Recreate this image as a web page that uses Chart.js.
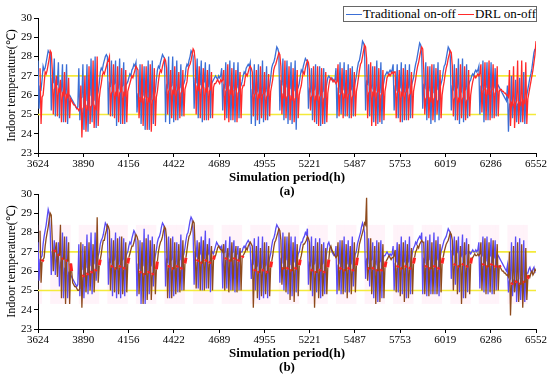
<!DOCTYPE html>
<html>
<head>
<meta charset="utf-8">
<script src="https://cdn.jsdelivr.net/npm/chart.js@4.4.1/dist/chart.umd.min.js"></script>
<style>
  body { margin: 0; background: #fff; width: 550px; height: 376px; position: relative; overflow: hidden; }
  .pane { position: absolute; left: 0; }
  #legend {
    position: absolute; left: 343px; top: 6px; width: 192px; height: 14px;
    border: 1px solid #666; background: #fff; z-index: 5;
    font: 13px 'Liberation Serif', serif; color: #000;
    display: flex; align-items: center; white-space: nowrap;
  }
  #legend .ln { display: inline-block; width: 30px; height: 1px; margin: 0 1px 0 2px; }
</style>
</head>
<body>
<div class="pane" style="top:0"><canvas id="chartA" width="550" height="200"></canvas></div>
<div class="pane" style="top:176px"><canvas id="chartB" width="550" height="200"></canvas></div>
<div id="legend">
  <span class="ln" style="background:#3b6fd6"></span><span>Traditional on-off</span>
  <span class="ln" style="background:#ff2a2a"></span><span>DRL on-off</span>
</div>
<script>
// ─── Axis values ──────────────────────────────────────────────────────────────
const xTickLabels = [3624, 3890, 4156, 4422, 4689, 4955, 5221, 5487, 5753, 6019, 6286, 6552];
const comfortBand = [25, 27];

// first sample hour of each controller's log (DRL log is half a day later)
const tradStartHour = 3624;
const drlStartHour  = 3636;

// ─── Series: 4 readings per day (6 h apart), day 0 then weekly rows
//     (2 weekend days + 5 working days), last row = closing weekend ─────────

const tradA = [
  27.8, 25.3, 26.4, 26.3,
  26.8, 27.5, 27.3, 27.4, 27.7, 28.0, 28.3, 28.2,  28.2, 25.2, 26.8, 26.7, 27.9, 24.9, 26.7, 26.6, 27.7, 24.8, 26.5, 26.3, 27.6, 24.6, 26.2, 26.1, 27.6, 24.5, 26.0, 26.0,
  25.9, 25.8, 25.7, 25.6, 25.5, 25.4, 25.3, 25.4,  27.4, 24.7, 25.8, 25.9, 27.6, 24.2, 25.9, 25.8, 27.6, 24.1, 25.9, 26.0, 27.9, 24.6, 25.9, 25.8, 28.0, 24.3, 26.0, 26.2,
  26.6, 27.2, 27.4, 27.3, 27.6, 27.8, 28.0, 28.1,  28.0, 25.0, 26.6, 26.5, 27.8, 24.9, 26.5, 26.6, 27.8, 24.4, 26.5, 26.4, 27.9, 24.5, 26.4, 26.5, 27.7, 24.5, 26.5, 26.6,
  26.7, 26.9, 27.1, 27.0, 27.3, 27.4, 27.6, 27.5,  27.7, 25.1, 26.0, 25.9, 27.6, 24.5, 25.9, 26.0, 27.5, 24.2, 25.8, 25.9, 27.8, 24.2, 25.9, 25.8, 27.8, 24.5, 26.0, 26.2,
  26.8, 27.3, 27.5, 27.4, 27.7, 27.9, 28.1, 28.0,  27.9, 24.6, 26.5, 26.4, 28.0, 24.5, 26.4, 26.5, 28.0, 24.6, 26.4, 26.3, 27.8, 24.7, 26.3, 26.4, 27.6, 24.9, 26.5, 26.6,
  26.8, 27.4, 27.6, 27.5, 27.8, 28.0, 28.3, 28.2,  28.0, 25.3, 26.8, 26.7, 27.9, 24.8, 26.7, 26.6, 27.8, 24.6, 26.6, 26.7, 27.7, 24.7, 26.6, 26.5, 27.6, 24.8, 26.6, 26.7,
  26.8, 26.9, 27.0, 26.9, 26.8, 27.0, 26.9, 27.0,  27.4, 25.2, 26.5, 26.4, 27.7, 24.8, 26.4, 26.5, 27.8, 24.7, 26.4, 26.3, 27.7, 24.6, 26.3, 26.4, 27.7, 24.8, 26.4, 26.5,
  26.7, 27.0, 27.2, 27.1, 27.4, 27.5, 27.6, 27.5,  27.7, 24.5, 26.2, 26.1, 27.6, 24.4, 26.1, 26.2, 27.6, 24.5, 26.1, 26.0, 27.8, 24.6, 26.1, 26.2, 27.5, 24.7, 26.3, 26.5,
  26.9, 27.4, 27.6, 27.7, 27.9, 28.2, 28.5, 28.4,  28.2, 25.2, 26.7, 26.6, 27.9, 24.7, 26.6, 26.5, 27.8, 24.5, 26.5, 26.4, 27.7, 24.5, 26.4, 26.3, 27.8, 24.2, 26.3, 26.4,
  26.6, 27.0, 27.3, 27.2, 27.5, 27.7, 27.9, 27.8,  27.8, 25.3, 26.3, 26.2, 27.4, 24.7, 26.2, 26.3, 27.6, 24.5, 26.2, 26.1, 27.5, 24.4, 26.1, 26.2, 27.4, 24.5, 26.3, 26.6,
  26.9, 27.0, 26.9, 26.8, 26.9, 26.8, 26.7, 26.8,  27.4, 24.8, 26.3, 26.2, 27.7, 25.0, 26.2, 26.3, 27.7, 24.9, 26.2, 26.1, 27.6, 24.8, 26.2, 26.3, 27.5, 24.9, 26.4, 26.7,
  27.0, 27.4, 27.7, 27.8, 28.1, 28.4, 28.8, 28.7,  28.5, 25.2, 26.7, 26.6, 27.6, 24.9, 26.5, 26.4, 27.5, 24.6, 26.4, 26.3, 27.8, 24.5, 26.3, 26.2, 27.7, 24.5, 26.4, 26.7,
  27.0, 27.1, 27.2, 27.1, 27.2, 27.3, 27.2, 27.3,  27.6, 25.2, 26.4, 26.3, 27.6, 24.8, 26.3, 26.4, 27.7, 24.6, 26.3, 26.2, 27.6, 24.7, 26.3, 26.4, 27.6, 24.8, 26.5, 26.7,
  26.9, 27.3, 27.6, 27.8, 28.1, 28.4, 28.7, 28.6,  28.1, 25.3, 26.5, 26.4, 27.7, 24.7, 26.4, 26.3, 27.5, 24.5, 26.3, 26.2, 27.6, 24.6, 26.2, 26.3, 27.7, 24.7, 26.4, 26.6,
  26.8, 27.2, 27.5, 27.6, 27.9, 28.2, 28.5, 28.4,  28.0, 25.2, 26.4, 26.3, 27.6, 24.7, 26.3, 26.4, 27.9, 24.5, 26.3, 26.2, 27.9, 24.6, 26.2, 26.3, 27.6, 24.8, 26.5, 26.7,
  26.8, 27.0, 27.1, 27.0, 27.2, 27.3, 27.2, 27.3,  27.5, 25.0, 26.4, 26.3, 27.8, 24.6, 26.3, 26.4, 27.7, 24.7, 26.3, 26.2, 27.7, 24.8, 26.3, 26.4, 27.4, 24.9, 26.4, 26.5,
  26.4, 26.3, 26.2, 26.1, 26.0, 25.9, 25.8, 25.7,  26.5, 24.1, 25.5, 25.4, 27.0, 24.8, 25.5, 25.6, 26.8, 24.6, 25.5, 25.4, 26.9, 24.6, 25.6, 25.5, 27.2, 24.5, 25.7, 26.0,
  26.3, 26.6, 26.9, 27.1, 27.4, 27.8, 28.2, 28.4,
];

const drlA = [
  27.4, 24.5, 25.9, 26.0,
  26.6, 27.2, 27.1, 27.3, 27.6, 27.9, 28.3, 28.2,  27.3, 25.0, 26.3, 26.4, 27.0, 24.9, 26.3, 26.2, 26.8, 24.6, 26.1, 26.0, 27.2, 24.6, 26.0, 25.9, 26.9, 24.8, 25.8, 25.7,
  25.6, 25.5, 25.5, 25.4, 25.3, 25.3, 25.2, 25.3,  26.5, 23.8, 25.3, 25.4, 27.0, 24.1, 25.4, 25.3, 27.5, 24.5, 25.4, 25.5, 27.8, 24.3, 25.4, 25.3, 28.0, 24.4, 25.8, 26.3,
  26.6, 27.0, 27.2, 27.1, 27.3, 27.5, 27.7, 27.8,  28.0, 24.9, 26.1, 26.2, 27.6, 24.8, 26.1, 26.0, 27.5, 24.6, 26.1, 26.2, 27.4, 24.5, 26.1, 26.0, 27.3, 24.6, 26.2, 26.4,
  26.6, 26.8, 27.0, 26.9, 27.1, 27.3, 27.5, 27.4,  27.3, 24.8, 25.8, 25.7, 27.6, 24.4, 25.8, 25.9, 27.5, 24.2, 25.8, 25.7, 27.6, 24.1, 25.7, 25.8, 27.4, 24.4, 25.9, 26.2,
  26.7, 27.1, 27.3, 27.2, 27.5, 27.7, 27.9, 27.8,  27.4, 25.0, 26.2, 26.3, 27.3, 24.8, 26.2, 26.1, 27.5, 24.7, 26.2, 26.3, 27.2, 24.8, 26.1, 26.2, 27.3, 24.9, 26.3, 26.5,
  26.7, 27.3, 27.5, 27.6, 27.8, 28.1, 28.4, 28.3,  27.8, 25.0, 26.4, 26.3, 27.5, 24.8, 26.3, 26.4, 27.4, 24.7, 26.3, 26.2, 27.3, 24.7, 26.2, 26.3, 27.2, 24.8, 26.4, 26.6,
  26.6, 26.7, 26.8, 26.7, 26.6, 26.8, 26.7, 26.8,  27.3, 24.7, 26.2, 26.3, 27.6, 24.6, 26.2, 26.1, 27.4, 24.7, 26.2, 26.3, 27.3, 24.6, 26.1, 26.2, 27.2, 24.8, 26.3, 26.5,
  26.5, 26.9, 27.1, 27.0, 27.2, 27.4, 27.5, 27.4,  27.2, 24.9, 26.0, 26.1, 27.3, 24.7, 26.0, 25.9, 27.5, 24.8, 26.0, 26.1, 27.2, 24.7, 25.9, 26.0, 27.1, 24.9, 26.2, 26.5,
  26.8, 27.3, 27.5, 27.6, 27.8, 28.0, 28.2, 28.1,  27.5, 25.0, 26.0, 25.9, 27.8, 24.8, 25.9, 26.0, 27.5, 24.7, 25.9, 25.8, 27.4, 24.6, 25.8, 25.9, 27.3, 24.8, 26.0, 26.3,
  26.5, 26.9, 27.2, 27.1, 27.4, 27.6, 27.8, 27.7,  27.3, 25.2, 25.9, 26.0, 27.5, 24.6, 25.9, 25.8, 27.5, 24.4, 25.9, 26.0, 27.4, 24.5, 25.8, 25.9, 27.2, 24.6, 26.1, 26.5,
  26.8, 26.9, 26.8, 26.7, 26.8, 26.7, 26.6, 26.7,  27.6, 24.9, 26.0, 26.1, 27.4, 24.8, 26.0, 25.9, 27.3, 24.9, 26.0, 26.1, 27.4, 24.8, 25.9, 26.0, 27.2, 24.9, 26.2, 26.5,
  26.9, 27.3, 27.6, 27.7, 28.0, 28.3, 28.6, 28.5,  27.9, 24.8, 26.1, 26.2, 27.7, 24.4, 26.1, 26.0, 27.5, 24.4, 26.1, 26.2, 27.4, 24.6, 26.0, 26.1, 27.3, 24.7, 26.2, 26.5,
  26.9, 27.0, 27.1, 27.0, 27.1, 27.2, 27.1, 27.2,  27.2, 24.8, 26.1, 26.2, 27.3, 24.6, 26.1, 26.0, 27.4, 24.7, 26.1, 26.2, 27.3, 24.7, 26.0, 26.1, 27.2, 24.8, 26.2, 26.5,
  26.8, 27.2, 27.5, 27.7, 28.0, 28.3, 28.5, 28.4,  27.3, 25.0, 25.8, 25.9, 27.5, 24.8, 25.8, 25.7, 27.6, 24.7, 25.8, 25.9, 27.4, 25.0, 25.7, 25.8, 27.3, 24.8, 26.0, 26.4,
  26.7, 27.1, 27.4, 27.6, 27.9, 28.1, 28.3, 28.2,  27.5, 24.9, 25.8, 25.9, 27.4, 24.7, 25.8, 25.7, 27.6, 24.8, 25.8, 25.9, 27.5, 24.7, 25.7, 25.8, 27.3, 24.9, 26.0, 26.4,
  26.7, 26.9, 27.0, 26.9, 27.0, 27.1, 27.0, 27.1,  27.6, 25.1, 26.2, 26.3, 27.7, 24.7, 26.2, 26.1, 27.8, 24.7, 26.2, 26.3, 27.6, 24.8, 26.1, 26.2, 27.5, 24.9, 26.2, 26.3,
  26.3, 26.2, 26.2, 26.1, 26.1, 26.0, 26.0, 25.9,  27.3, 24.4, 25.6, 25.5, 27.5, 24.3, 25.6, 25.7, 27.8, 24.5, 25.6, 25.5, 27.8, 24.6, 25.7, 25.6, 27.7, 24.5, 25.8, 26.1,
  26.4, 26.7, 27.0, 27.3, 27.7, 28.1, 28.8, 28.5,
];

const tradB = [
  27.5, 25.5, 26.6, 26.7,
  26.8, 27.4, 27.8, 28.1, 28.4, 28.8, 29.2, 29.0,  28.0, 25.8, 26.9, 26.8, 27.6, 25.8, 26.7, 26.5, 27.5, 25.2, 26.4, 26.2, 28.0, 24.6, 26.1, 26.0, 27.8, 24.6, 25.9, 25.8,
  25.8, 25.7, 25.6, 25.5, 25.4, 25.3, 25.2, 25.3,  27.4, 24.7, 26.0, 26.1, 27.4, 24.6, 26.1, 26.2, 27.9, 24.8, 26.2, 26.3, 28.0, 24.8, 26.3, 26.4, 28.0, 25.5, 26.5, 26.8,
  27.0, 27.4, 27.6, 27.7, 27.9, 28.2, 28.5, 28.4,  28.2, 25.3, 26.6, 26.5, 27.7, 24.7, 26.5, 26.6, 28.0, 24.6, 26.5, 26.4, 27.8, 24.6, 26.5, 26.6, 27.7, 24.7, 26.7, 26.9,
  27.0, 27.3, 27.5, 27.4, 27.7, 27.9, 28.1, 28.0,  27.5, 24.7, 26.3, 26.2, 27.6, 24.3, 26.2, 26.3, 28.2, 24.3, 26.2, 26.1, 27.9, 24.8, 26.2, 26.3, 27.8, 25.2, 26.5, 26.8,
  27.1, 27.5, 27.7, 27.8, 28.0, 28.3, 28.5, 28.4,  28.2, 25.2, 26.6, 26.5, 27.8, 24.6, 26.5, 26.6, 27.8, 24.7, 26.5, 26.4, 27.5, 24.9, 26.5, 26.6, 27.9, 25.0, 26.7, 26.9,
  27.2, 27.6, 27.9, 28.0, 28.3, 28.6, 28.8, 28.7,  28.0, 25.3, 26.9, 26.8, 27.6, 25.1, 26.8, 26.9, 27.8, 25.0, 26.8, 26.7, 28.1, 25.1, 26.8, 26.9, 27.7, 24.9, 26.9, 27.0,
  26.9, 27.1, 27.3, 27.5, 27.4, 27.3, 27.3, 27.2,  27.3, 25.1, 26.9, 27.0, 27.6, 25.1, 26.9, 26.8, 27.8, 25.0, 26.9, 27.0, 27.6, 24.9, 26.8, 26.9, 27.3, 25.0, 26.9, 27.0,
  27.0, 27.2, 27.3, 27.2, 27.4, 27.5, 27.6, 27.5,  27.2, 25.6, 26.5, 26.4, 27.7, 25.0, 26.4, 26.3, 27.8, 24.5, 26.3, 26.2, 27.8, 24.6, 26.2, 26.3, 27.5, 24.6, 26.4, 26.7,
  26.9, 27.3, 27.6, 27.7, 27.9, 28.2, 28.4, 28.3,  28.2, 25.4, 26.6, 26.5, 28.0, 25.0, 26.5, 26.6, 27.8, 24.8, 26.5, 26.4, 27.8, 24.7, 26.4, 26.5, 27.8, 24.9, 26.6, 26.9,
  27.0, 27.3, 27.5, 27.5, 27.7, 27.8, 28.0, 27.9,  28.2, 25.3, 26.4, 26.3, 27.8, 24.7, 26.3, 26.4, 27.7, 24.9, 26.3, 26.2, 27.7, 24.6, 26.3, 26.4, 27.5, 24.8, 26.6, 27.0,
  27.4, 27.5, 27.3, 27.2, 27.0, 26.9, 26.8, 26.8,  27.3, 24.8, 26.3, 26.4, 27.6, 24.8, 26.3, 26.2, 27.8, 24.9, 26.3, 26.4, 27.6, 24.9, 26.3, 26.4, 27.8, 25.2, 26.6, 26.9,
  27.0, 27.4, 27.6, 27.8, 28.0, 28.3, 28.5, 28.3,  28.0, 25.6, 26.6, 26.5, 27.7, 25.2, 26.5, 26.6, 27.5, 24.6, 26.5, 26.4, 27.6, 24.4, 26.4, 26.5, 27.6, 24.6, 26.6, 26.8,
  26.8, 26.9, 27.0, 26.9, 26.8, 26.9, 26.8, 26.9,  27.3, 25.0, 26.4, 26.5, 27.5, 24.9, 26.4, 26.3, 27.8, 24.8, 26.4, 26.5, 27.6, 24.6, 26.4, 26.5, 27.8, 24.8, 26.7, 27.0,
  27.2, 27.3, 27.5, 27.4, 27.6, 27.7, 27.8, 27.7,  28.0, 24.8, 26.6, 26.5, 27.8, 24.7, 26.5, 26.6, 27.9, 24.8, 26.5, 26.4, 28.0, 24.8, 26.5, 26.6, 27.8, 24.7, 26.7, 27.0,
  27.2, 27.4, 27.6, 27.7, 27.8, 28.0, 28.2, 28.1,  28.0, 25.6, 27.0, 26.9, 27.8, 25.3, 26.9, 27.0, 27.8, 24.9, 26.9, 26.8, 27.9, 24.6, 26.8, 26.9, 27.7, 24.9, 26.9, 27.0,
  26.9, 27.0, 27.1, 27.0, 27.0, 27.1, 27.0, 27.1,  27.5, 25.1, 26.7, 26.8, 27.8, 24.9, 26.7, 26.6, 27.8, 24.8, 26.7, 26.8, 27.7, 24.8, 26.6, 26.7, 27.6, 25.0, 26.7, 26.8,
  26.7, 26.6, 26.5, 26.4, 26.3, 26.2, 26.1, 26.0,  26.3, 24.9, 25.5, 25.6, 27.5, 24.7, 25.5, 25.4, 27.8, 24.4, 25.5, 25.6, 27.7, 24.5, 25.6, 25.5, 27.6, 24.4, 25.7, 25.9,
  25.9, 26.1, 26.2, 26.0, 25.9, 26.1, 26.2, 25.9,
];

const drlB = [
  28.1, 25.4, 26.5, 26.6,
  26.7, 27.3, 27.7, 28.0, 28.3, 28.7, 29.0, 28.9,  27.6, 26.0, 27.0, 27.1, 27.5, 25.7, 26.9, 26.8, 28.4, 24.6, 26.7, 26.6, 27.8, 24.3, 26.6, 26.5, 27.5, 24.3, 26.4, 26.0,
  25.4, 25.3, 25.2, 25.2, 25.1, 25.0, 25.0, 25.1,  27.5, 24.1, 25.7, 25.8, 27.3, 24.9, 25.8, 25.9, 27.5, 25.0, 25.9, 26.0, 27.4, 24.9, 26.0, 26.1, 28.8, 25.4, 26.3, 26.6,
  26.9, 27.3, 27.6, 27.6, 27.9, 28.1, 28.4, 28.3,  28.1, 25.0, 26.2, 26.3, 27.6, 24.9, 26.2, 26.1, 27.7, 24.8, 26.2, 26.3, 27.8, 24.8, 26.1, 26.2, 27.5, 24.9, 26.4, 26.7,
  26.9, 27.1, 27.3, 27.3, 27.5, 27.7, 27.9, 27.8,  27.6, 24.8, 25.9, 26.0, 27.5, 24.3, 25.9, 25.8, 27.7, 24.5, 25.9, 26.0, 27.6, 24.5, 25.8, 25.9, 27.4, 24.8, 26.1, 26.5,
  27.0, 27.3, 27.5, 27.6, 27.8, 28.1, 28.3, 28.2,  27.7, 24.6, 26.2, 26.3, 27.7, 24.6, 26.2, 26.1, 27.5, 24.8, 26.2, 26.3, 27.4, 24.9, 26.1, 26.2, 27.6, 25.0, 26.4, 26.7,
  27.1, 27.5, 27.8, 27.9, 28.1, 28.4, 28.6, 28.5,  27.2, 25.1, 26.5, 26.6, 27.5, 25.0, 26.5, 26.4, 27.6, 25.0, 26.5, 26.6, 27.4, 25.1, 26.4, 26.5, 27.3, 25.0, 26.6, 26.8,
  26.8, 27.0, 27.2, 27.3, 27.2, 27.1, 27.1, 27.0,  27.4, 25.0, 26.6, 26.7, 27.2, 24.9, 26.6, 26.5, 27.5, 25.0, 26.6, 26.7, 27.3, 24.9, 26.5, 26.6, 27.2, 25.0, 26.7, 26.8,
  26.9, 27.0, 27.2, 27.1, 27.3, 27.4, 27.5, 27.4,  27.3, 24.1, 26.0, 26.1, 27.3, 24.6, 26.0, 25.9, 27.2, 24.7, 26.0, 26.1, 27.5, 24.8, 25.9, 26.0, 27.3, 24.7, 26.2, 26.5,
  26.8, 27.2, 27.5, 27.6, 27.8, 28.0, 28.2, 28.1,  27.6, 25.3, 26.2, 26.1, 27.8, 24.9, 26.1, 26.2, 28.0, 24.5, 26.1, 26.0, 27.5, 24.4, 26.1, 26.2, 27.4, 24.7, 26.3, 26.6,
  26.8, 27.1, 27.4, 27.4, 27.5, 27.6, 27.8, 27.7,  27.5, 25.0, 26.0, 26.1, 27.3, 24.1, 26.0, 25.9, 27.5, 24.6, 26.0, 26.1, 27.4, 24.7, 25.9, 26.0, 27.2, 24.8, 26.2, 26.6,
  27.2, 27.3, 27.1, 27.0, 26.9, 26.8, 26.7, 26.8,  27.5, 25.0, 26.1, 26.2, 27.6, 24.8, 26.1, 26.0, 27.4, 24.6, 26.1, 26.2, 27.3, 24.8, 26.0, 26.1, 27.5, 24.9, 26.3, 26.7,
  27.0, 27.4, 27.6, 27.8, 28.0, 28.2, 28.5, 28.4,  29.8, 25.5, 26.2, 26.1, 27.7, 24.8, 26.1, 26.2, 27.3, 24.3, 26.1, 26.0, 27.5, 24.4, 26.0, 26.1, 27.4, 24.6, 26.2, 26.5,
  26.6, 26.7, 26.8, 26.7, 26.6, 26.7, 26.7, 26.8,  27.1, 24.9, 26.2, 26.3, 27.4, 24.7, 26.2, 26.1, 27.5, 24.4, 26.2, 26.3, 27.4, 24.6, 26.1, 26.2, 27.2, 24.8, 26.4, 26.7,
  27.0, 27.1, 27.3, 27.2, 27.4, 27.5, 27.6, 27.5,  27.5, 24.8, 26.2, 26.3, 27.6, 24.7, 26.2, 26.1, 27.5, 24.8, 26.2, 26.3, 27.6, 24.8, 26.1, 26.2, 27.4, 24.9, 26.4, 26.7,
  27.0, 27.2, 27.4, 27.5, 27.6, 27.8, 28.0, 27.9,  27.6, 25.0, 26.3, 26.4, 27.6, 24.8, 26.3, 26.2, 27.3, 24.3, 26.3, 26.4, 27.5, 24.6, 26.2, 26.3, 27.4, 24.8, 26.4, 26.7,
  26.7, 26.8, 26.9, 26.8, 26.8, 26.9, 26.8, 26.9,  27.5, 25.0, 26.3, 26.4, 27.7, 24.8, 26.3, 26.2, 27.5, 24.9, 26.3, 26.4, 27.6, 24.8, 26.2, 26.3, 27.4, 25.0, 26.3, 26.2,
  26.1, 26.0, 26.0, 25.9, 25.9, 25.8, 25.8, 25.7,  27.0, 23.7, 25.3, 25.4, 27.3, 24.9, 25.4, 25.5, 27.5, 24.4, 25.4, 25.3, 27.4, 24.1, 25.5, 25.4, 27.2, 24.5, 25.6, 25.8,
  25.7, 25.9, 26.0, 25.8, 25.9, 26.1, 26.0, 25.8,
];

// ─── Shared style ─────────────────────────────────────────────────────────────

const COLORS = {
  tradA:  '#3b6fd6',
  drlA:   '#ff2a2a',
  tradB:  '#5a4cf5',
  drlB:   '#8e4a1c',
  drlHot: '#ff2020',
  limit:  '#f4ea3a',
  shade:  'rgba(255,160,205,0.13)',
  axis:   '#000',
};
const SERIF = "'Liberation Serif','Times New Roman',serif";
const X0 = 3624, X1 = 6552;
const STEP = 6; // hours between readings

const toPoints = (arr, start) => arr.map((y, i) => ({ x: start + i * STEP, y }));

const isWeekend = day => day > 0 && (day - 1) % 7 < 2;
const isHotSegment = c => c.p0DataIndex % 4 === 2 && !isWeekend(Math.floor(c.p0DataIndex / 4));

// pink working-day blocks behind panel (b)
const shadePlugin = {
  id: 'shade',
  beforeDatasetsDraw(chart) {
    const { ctx, scales: { x, y } } = chart;
    ctx.save();
    ctx.fillStyle = COLORS.shade;
    for (let d = 0; d < 122; d++) {
      if (isWeekend(d)) continue;
      const a = x.getPixelForValue(X0 + d * 24), b = x.getPixelForValue(X0 + (d + 1) * 24);
      const top = y.getPixelForValue(28.4), bot = y.getPixelForValue(24.3);
      ctx.fillRect(a, top, b - a, bot - top);
    }
    ctx.restore();
  },
};

function buildPanel(ctx, { trad, drl, tradColor, drlColor, tag, shade }) {
  const limitLine = v => ({
    data: [{ x: X0, y: v }, { x: X1, y: v }],
    borderColor: COLORS.limit, borderWidth: 1.6, order: 3,
  });
  return new Chart(ctx, {
    type: 'line',
    data: {
      datasets: [
        limitLine(comfortBand[0]),
        limitLine(comfortBand[1]),
        { label: 'Traditional on-off', data: toPoints(trad, tradStartHour), borderColor: tradColor, borderWidth: 1.3, order: 2 },
        {
          label: 'DRL on-off', data: toPoints(drl, drlStartHour), borderColor: drlColor, borderWidth: 1.3, order: 1,
          segment: shade ? {
            borderColor: c => isHotSegment(c) ? COLORS.drlHot : undefined,
            borderWidth: c => isHotSegment(c) ? 3 : undefined,
          } : undefined,
        },
      ],
    },
    options: {
      responsive: false,
      animation: false,
      devicePixelRatio: 1,
      layout: { padding: { top: 18, right: 14, left: 0, bottom: 0 } },
      elements: { point: { radius: 0 }, line: { tension: 0 } },
      plugins: { legend: { display: false }, tooltip: { enabled: false } },
      scales: {
        x: {
          type: 'linear', min: X0, max: X1,
          afterBuildTicks: s => { s.ticks = xTickLabels.map(v => ({ value: v })); },
          afterFit: s => { s.height = 47; },
          ticks: { callback: v => String(v), autoSkip: false, maxRotation: 0, padding: 1,
                   color: COLORS.axis, font: { family: SERIF, size: 11 } },
          grid: { drawOnChartArea: false, tickLength: 4, color: COLORS.axis },
          border: { color: COLORS.axis, width: 1 },
          title: { display: true, text: ['Simulation period(h)', tag], color: COLORS.axis,
                   font: { family: SERIF, size: 13, weight: 'bold', lineHeight: 1.05 }, padding: { top: 1, bottom: 2 } },
        },
        y: {
          min: 23, max: 30,
          afterFit: s => { s.width = 38; },
          ticks: { stepSize: 1, padding: 2, color: COLORS.axis, font: { family: SERIF, size: 11 } },
          grid: { drawOnChartArea: false, tickLength: 4, color: COLORS.axis },
          border: { color: COLORS.axis, width: 1 },
          title: { display: true, text: 'Indoor temperature(℃)', color: COLORS.axis,
                   font: { family: SERIF, size: 12 }, padding: { top: 5, bottom: 0 } },
        },
      },
    },
    plugins: shade ? [shadePlugin] : [],
  });
}

buildPanel(document.getElementById('chartA'), {
  trad: tradA, drl: drlA, tradColor: COLORS.tradA, drlColor: COLORS.drlA, tag: '(a)', shade: false,
});
buildPanel(document.getElementById('chartB'), {
  trad: tradB, drl: drlB, tradColor: COLORS.tradB, drlColor: COLORS.drlB, tag: '(b)', shade: true,
});
</script>
</body>
</html>
